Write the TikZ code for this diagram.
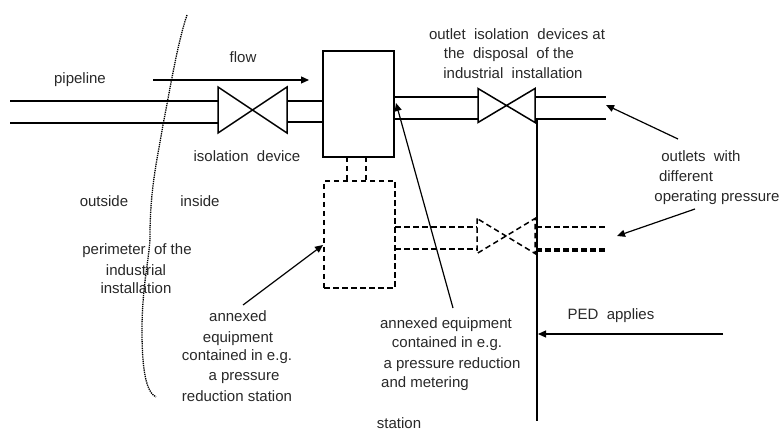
\documentclass[tikz,border=0pt]{standalone}
\usepackage{fontspec}
\setmainfont{Liberation Sans}
\usetikzlibrary{arrows.meta}
\definecolor{PedTextColor}{RGB}{40,40,40}
\begin{document}
\begin{tikzpicture}[x=1pt,y=-1pt,
   pipe/.style={line width=2pt},
   dashpipe/.style={line width=1.5pt,dash pattern=on 5.5pt off 3.5pt},
   vessel/.style n args={2}{rectangle,draw,line width=1.6pt,minimum width=#1pt,minimum height=#2pt,inner sep=0pt,outer sep=0pt},
   lbl/.style={text=PedTextColor,font=\fontsize{15}{17}\selectfont,inner sep=0pt,anchor=base},
   callout/.style={line width=1.2pt,-{Triangle[length=8pt,width=7pt]}}]
\useasboundingbox (0,0) rectangle (782,430);
% boxes
\node[vessel={71}{106}](box) at (358.5,104) {};
\node[vessel={71}{107},dashpipe](annex) at (359.5,234.5) {};
% points on the pipes
\foreach \n/\x/\y in %
{inA/10/101,inB/10/123,vaA/218/101,vaB/218/123,vcA/287/101,vcB/287/122,boxA/323/101,boxB/323/122,
 boxC/394/97,boxD/394/119,vdA/478/97,vdB/478/119,veA/535/97,veB/535/119,outA/606/97,outB/606/119,
 dxA/395/227,dxB/395/249,dvA/477/227,dvB/477/249,dwA/536/227,dwB/536/250,dzA/606/227,dzB/606/250,
 stubA/347/157,stubB/366/157,stubC/347/181,stubD/366/181,
 pedT/537/120,pedB/537/421,
 flowS/153/80,flowE/309/80,
 noteA/678/139,noteB/606/105,noteC/695/209,noteD/617/236,noteE/243/305,noteF/323/245,noteG/453/308,noteH/396/103,noteI/723/334,noteJ/538/334} {
   \coordinate (\n) at (\x,\y);
}
% pipes
\foreach \a/\b in %
{inA/vaA,inB/vaB,vcA/boxA,vcB/boxB,boxC/vdA,boxD/vdB,veA/outA,veB/outB} {
   \draw[pipe] (\a) -- (\b);
}
\draw[pipe] (pedT) -- (pedB);
% valves
\draw[line width=1.5pt] (218,87) -- (218,133) -- (287,87) -- (287,133) -- cycle;
\draw[line width=1.5pt] (478,88.5) -- (478,122.5) -- (535,88.5) -- (535,122.5) -- cycle;
\draw[dashpipe] (477,218.5) -- (477,253.5) -- (535,218.5) -- (535,253.5) -- cycle;
% dashed pipes
\foreach \a/\b in %
{dxA/dvA,dxB/dvB,dwA/dzA,stubA/stubC,stubB/stubD} {
   \draw[dashpipe] (\a) -- (\b);
}
\draw[dashpipe,line width=3.2pt] (dwB) -- (dzB);
% perimeter
\draw[line width=1.3pt,dash pattern=on 1.3pt off 0.9pt] (187,15) .. controls (178,42) and (172,78) .. (163,125)
   .. controls (157,160) and (150,190) .. (150,236)
   .. controls (150,255) and (142,285) .. (142,330)
   .. controls (142,370) and (146,392) .. (156,397);
% arrows
\draw[callout] (flowS) -- (flowE);
\foreach \a/\b in %
{noteA/noteB,noteC/noteD,noteE/noteF,noteG/noteH,noteI/noteJ} {
   \draw[callout] (\a) -- (\b);
}
% labels
\foreach \n/\x/\y/\1 in %
{tA/80/84/pipeline,tB/243/63/flow,tC/247/162/isolation\ \ device,tD/104/207/outside,tE/200/207/inside,
 tF/137/255/perimeter\ \ of the,tG/136/276/industrial,tH/136/294/installation,
 tI/238/322/annexed,tJ/238/342/equipment,tK/237/361/contained in e.g.,tL/244/381/a pressure,tM/237/401/reduction station,
 tN/446/329/annexed equipment,tO/447/348/contained in e.g.,tP/452/368/a pressure reduction,tQ/425/387/and metering,tR/399/428/station,
 tS/517/40/outlet\ \ isolation\ \ devices at,tT/509/59/the\ \ disposal\ \ of the,tU/513/79/industrial\ \ installation,
 tV/701/162/outlets\ \ with,tW/686/182/different,tX/717/202/operating pressure,tY/611/320/PED\ \ applies} {
   \node[lbl](\n) at (\x,\y) {\1};
}
\end{tikzpicture}
\end{document}
